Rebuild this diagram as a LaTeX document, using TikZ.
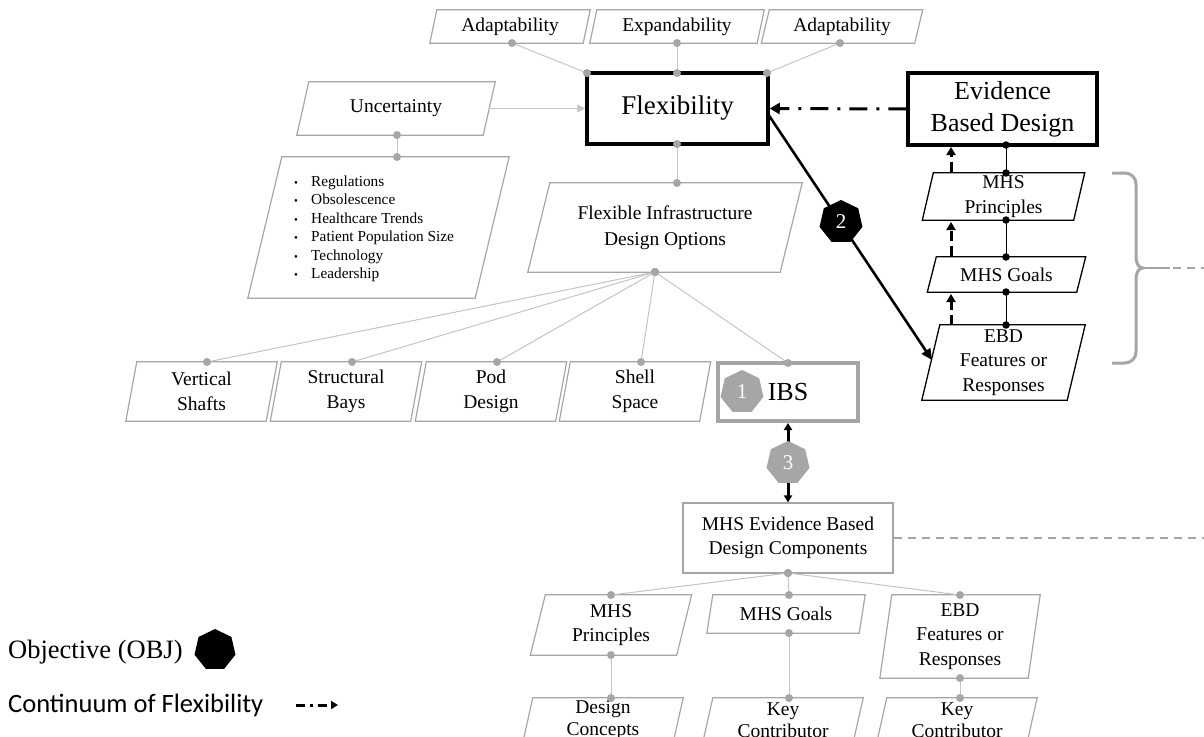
\documentclass[tikz,border=0pt]{standalone}
\usepackage{fontspec}
\setmainfont{Liberation Serif}
\newfontfamily\calibrifont{Carlito}
\usetikzlibrary{arrows.meta,shapes.geometric,calc}
\definecolor{lgray}{HTML}{C4C4C4}
\definecolor{dgray}{HTML}{A6A6A6}
\definecolor{bgray}{HTML}{A6A6A6}
\tikzset{
  gline/.style={draw=lgray, line width=1pt},
  bline/.style={draw=black, line width=1pt},
  gdot/.style={circle, fill=dgray, inner sep=0pt, minimum size=8pt},
  bdot/.style={circle, fill=black, inner sep=0pt, minimum size=7.5pt},
  txt/.style={inner sep=0pt, align=center, font=\fontsize{19.5}{24.5}\selectfont},
  pgray/.style={draw=bgray, line width=1.2pt},
  pblack/.style={draw=black, line width=1.3pt},
  hept/.style={regular polygon, regular polygon sides=7, minimum size=44pt, inner sep=0pt, text=white, font=\fontsize{21}{21}\selectfont},
  thickbox/.style={draw=black, line width=3.5pt, inner sep=0pt, align=center},
  dashdot/.style={draw=black, line width=3pt, dash pattern=on 18pt off 9pt on 3pt off 9pt, -{Triangle[length=10pt,width=11pt]}},
  dasharr/.style={draw=black, line width=3pt, dash pattern=on 10pt off 5pt, -{Triangle[length=8pt,width=9pt]}},
}
% style, name, cx, cy, w, h, slant, text
\newcommand\pgram[8]{%
  \node[txt, minimum width=#5pt, minimum height=#6pt] (#2) at (#3,#4) {#8};
  \draw[#1] ($(#2.south west)+(-#7/2,0)$) -- ($(#2.north west)+(#7/2,0)$) -- ($(#2.north east)+(#7/2,0)$) -- ($(#2.south east)+(-#7/2,0)$) -- cycle;
}
\newcommand\gconn[2]{\draw[gline] (#1) -- (#2) node[gdot,pos=0]{} node[gdot,pos=1]{};}
\newcommand\bconn[2]{\draw[bline] (#1) -- (#2) node[bdot,pos=0]{} node[bdot,pos=1]{};}
\newcommand\smbul{\makebox[17pt][l]{\fontsize{11}{11}\selectfont\textbullet}}
\begin{document}
\begin{tikzpicture}[x=1pt,y=-1pt]
\useasboundingbox (0,0) rectangle (1204,736);
\clip (0,0) rectangle (1204,736);

% top row
\pgram{pgray}{A1}{510}{26.5}{153}{33}{7}{Adaptability}
\pgram{pgray}{E1}{677}{26.5}{167}{33}{7}{Expandability}
\pgram{pgray}{A2}{842}{26.5}{153}{33}{8}{Adaptability}
\node[thickbox, minimum width=181pt, minimum height=71pt, font=\fontsize{27}{27}\selectfont] (flex) at (677.5,108.5) {Flexibility};

% uncertainty
\pgram{pgray}{unc}{396}{108.5}{186}{53}{12}{Uncertainty}
\pgram{pgray}{ulbox}{378.5}{227.5}{227}{141}{34}{}
\node[anchor=west, inner sep=0pt, align=left, font=\fontsize{15.3}{18.5}\selectfont] (ulist) at (294,229) {%
\smbul Regulations\\
\smbul Obsolescence\\
\smbul Healthcare Trends\\
\smbul Patient Population Size\\
\smbul Technology\\
\smbul Leadership};

\pgram{pgray}{fido}{665}{227.5}{252}{89}{22}{Flexible Infrastructure\\[2pt]Design Options}

% options row
\pgram{pgray}{vs}{201.5}{391.5}{140}{59}{11}{Vertical\\Shafts}
\pgram{pgray}{sb}{346}{391.5}{140}{59}{11}{Structural\\Bays}
\pgram{pgray}{pod}{491}{391.5}{140}{59}{11}{Pod\\Design}
\pgram{pgray}{shell}{635}{391.5}{140}{59}{11}{Shell\\Space}
\node[draw=dgray, line width=4pt, minimum width=140pt, minimum height=58pt, inner sep=0pt] (ibs) at (788,392) {};
\node[font=\fontsize{26}{26}\selectfont, inner sep=0pt] (ibst) at (788,392) {IBS};
\node[hept, fill=dgray] (o1) at (742,392) {1};

% components
\node[txt, draw=bgray, line width=1.2pt, minimum width=210pt, minimum height=70pt] (comp) at (788,538) {MHS Evidence Based\\Design Components};
\pgram{pgray}{mp}{611}{625}{146}{60}{15}{MHS\\Principles}
\pgram{pgray}{mg}{786}{614}{152}{38}{6}{MHS Goals}
\pgram{pgray}{ef}{960}{636.5}{148}{83}{12}{EBD\\Features or\\Responses}
\pgram{pgray}{dc}{603}{720}{150}{44}{10}{Design\\[-3pt]Concepts}
\pgram{pgray}{kc1}{783}{720}{150}{44}{10}{Key\\[-3pt]Contributor}
\pgram{pgray}{kc2}{957}{720}{150}{44}{10}{Key\\[-3pt]Contributor}

% right column
\node[thickbox, minimum width=189pt, minimum height=72pt, font=\fontsize{26}{32}\selectfont] (ebd) at (1002.5,109) {Evidence\\Based Design};
\pgram{pblack}{rp}{1003.5}{196.5}{151}{47}{11}{MHS\\Principles}
\pgram{pblack}{rg}{1006.5}{274.5}{149}{35}{9}{MHS Goals}
\pgram{pblack}{rf}{1003.5}{362.5}{145}{75}{18}{EBD\\Features or\\Responses}

% dot coordinates
\coordinate (a1d) at (512,43);
\coordinate (e1d) at (677,43);
\coordinate (a2d) at (840,43);
\coordinate (fl1) at (587,73);
\coordinate (fl2) at (677,73);
\coordinate (fl3) at (767,73);
\coordinate (flb) at (677,144);
\coordinate (fit) at (677,183);
\coordinate (fib) at (655,272);
\coordinate (ud) at (397,135);
\coordinate (uld) at (397,157);
\coordinate (vsd) at (207,362);
\coordinate (sbd) at (352,362);
\coordinate (podd) at (497,362);
\coordinate (shd) at (641,362);
\coordinate (ibsd) at (788,363);
\coordinate (compb) at (788,573);
\coordinate (mpt) at (611,595);
\coordinate (mgt) at (789,595);
\coordinate (eft) at (960,595);
\coordinate (mpb) at (611,655);
\coordinate (dct) at (611,698);
\coordinate (mgb) at (789,633);
\coordinate (kc1t) at (789,698);
\coordinate (efb) at (960,678);
\coordinate (kc2t) at (960,698);
\coordinate (r1) at (1006,145);
\coordinate (r2) at (1006,173);
\coordinate (r3) at (1006,220);
\coordinate (r4) at (1006,257);
\coordinate (r5) at (1006,292);
\coordinate (r6) at (1006,325);

% gray connectors
\gconn{a1d}{fl1}
\gconn{e1d}{fl2}
\gconn{a2d}{fl3}
\gconn{flb}{fit}
\gconn{ud}{uld}
\gconn{fib}{vsd}
\gconn{fib}{sbd}
\gconn{fib}{podd}
\gconn{fib}{shd}
\gconn{fib}{ibsd}
\gconn{compb}{mpt}
\gconn{compb}{mgt}
\gconn{compb}{eft}
\gconn{mpb}{dct}
\gconn{mgb}{kc1t}
\gconn{efb}{kc2t}
\draw[draw=lgray, line width=1pt, -{Triangle[length=8pt,width=8pt]}] (unc.east) -- (flex.west);

% black connectors right
\bconn{r1}{r2}
\bconn{r3}{r4}
\bconn{r5}{r6}
\coordinate (d1s) at (951,325);
\coordinate (d1e) at (951,294);
\coordinate (d2s) at (951,256);
\coordinate (d2e) at (951,222);
\coordinate (d3s) at (951,172);
\coordinate (d3e) at (951,147);
\draw[dasharr] (d1s) -- (d1e);
\draw[dasharr] (d2s) -- (d2e);
\draw[dasharr] (d3s) -- (d3e);

% main arrows
\draw[dashdot] (ebd.west) -- (flex.east);
\coordinate (a2s) at (768,114);
\coordinate (a2e) at (932,360);
\draw[line width=2.6pt, -{Triangle[length=11pt,width=10pt]}] (a2s) -- (a2e);
\node[hept, fill=black] (o2) at (841,222) {2};
\draw[line width=3pt, {Triangle[length=7pt,width=8pt]}-{Triangle[length=7pt,width=8pt]}] (ibs.south) -- (comp.north);
\node[hept, fill=dgray] (o3) at (788,463) {3};

% dashed to the right
\coordinate (rend) at (1204,538);
\draw[draw=dgray, line width=1.5pt, dash pattern=on 8pt off 6pt] (comp.east) -- (rend);

% brace
\coordinate (brt) at (1112,173);
\coordinate (brb) at (1112,363);
\coordinate (brtip) at (1143,268);
\coordinate (brl) at (1170,268);
\coordinate (brd) at (1173,268);
\coordinate (bre) at (1204,268);
\draw[draw=dgray, line width=3pt] (brt) -- (1125,173) to[out=0,in=90] (1136,184) -- (1136,257) to[out=-90,in=180] (brtip) to[out=180,in=90] (1136,279) -- (1136,352) to[out=-90,in=0] (1125,363) -- (brb);
\draw[draw=dgray, line width=2pt] (brtip) -- (brl);
\draw[draw=dgray, line width=2pt, dash pattern=on 8pt off 6pt] (brd) -- (bre);

% legend
\node[anchor=west, inner sep=0pt, font=\fontsize{26.5}{26.5}\selectfont] (objl) at (8,652) {Objective (OBJ)};
\node[hept, fill=black, minimum size=42pt] (objh) at (215,650) {};
\node[anchor=west, inner sep=0pt, font=\calibrifont\fontsize{26.5}{26.5}\selectfont] (cfl) at (8,705) {Continuum of Flexibility};
\coordinate (lgs) at (296,705);
\coordinate (lge) at (338,705);
\draw[draw=black, line width=3pt, dash pattern=on 9pt off 5pt on 2.5pt off 5pt, -{Triangle[length=7pt,width=8pt]}] (lgs) -- (lge);
\end{tikzpicture}
\end{document}
